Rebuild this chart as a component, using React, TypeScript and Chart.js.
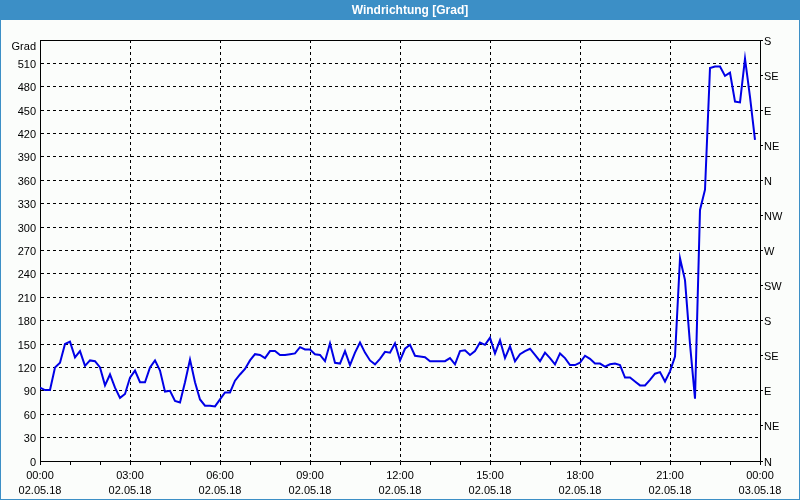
import React, { useEffect, useRef } from "react";
import { Chart, registerables } from "chart.js";

Chart.register(...registerables);

// ---- data ----
const SAMPLE_MINUTES = 10; // one reading every 10 minutes from 02.05.18 00:00
const windDirection = [
  94, 91, 91, 120, 126, 150, 153, 133, 141, 122, 129, 128, 120, 97, 111, 94, 81, 86, 107, 116, 101, 101, 120, 129, 116, 89, 90, 77, 75, 101, 130, 101, 79, 71, 71, 70,
  79, 88, 88, 103, 111, 118, 129, 137, 136, 132, 141, 141, 136, 136, 137, 138, 146, 143, 143, 137, 136, 128, 151, 126, 125, 141, 123, 139, 152, 139, 129, 124, 131, 140, 139, 151, 129, 144,
  149, 135, 134, 133, 128, 128, 128, 128, 132, 124, 141, 142, 136, 141, 152, 149, 158, 138, 155, 132, 147, 128, 137, 141, 144, 136, 128, 139, 132, 124, 138, 132, 123, 123, 126, 135, 131, 125,
  125, 121, 124, 125, 123, 107, 107, 102, 97, 97, 104, 112, 114, 102, 115, 134, 260, 232, 150, 80, 322, 348, 504, 506, 506, 494, 498, 461, 460, 516, 467, 412,
];
const compassLabels = ["N", "NE", "E", "SE", "S", "SW", "W", "NW", "N", "NE", "E", "SE", "S"];
const dayLabels = ["02.05.18", "03.05.18"];
const chartTitle = "Windrichtung [Grad]";
const unitLabel = "Grad";

const Y_MAX = 540;
const Y_STEP = 30;
const COMPASS_STEP = 45;
const X_MAX = 1440;
const LABEL_EVERY = 180;

const FONT = "'Liberation Sans', Arial, sans-serif";
const FRAME_BLUE = "#3c8fc6";
const LINE_BLUE = "#0000e6";

export default function App() {
  const ref = useRef<HTMLCanvasElement>(null);

  useEffect(() => {
    document.body.style.margin = "0";
    const canvas = ref.current;
    if (!canvas) return;

    const framePlugin = {
      id: "frame",
      beforeDraw(chart: any) {
        const { ctx, width, height } = chart;
        ctx.save();
        ctx.fillStyle = "#fbfdfb";
        ctx.fillRect(0, 0, width, height);
        ctx.fillStyle = FRAME_BLUE;
        ctx.fillRect(0, 0, width, 20);
        ctx.strokeStyle = FRAME_BLUE;
        ctx.lineWidth = 1;
        ctx.strokeRect(0.5, 0.5, width - 1, height - 1);
        ctx.fillStyle = "#ffffff";
        ctx.font = `bold 12px ${FONT}`;
        ctx.textAlign = "center";
        ctx.textBaseline = "middle";
        ctx.fillText(chartTitle, width / 2 + 10, 10.5);
        ctx.restore();
      },
      afterDraw(chart: any) {
        const { ctx, chartArea } = chart;
        ctx.save();
        ctx.strokeStyle = "#000";
        ctx.lineWidth = 1;
        ctx.beginPath();
        ctx.moveTo(chartArea.left, Math.round(chartArea.top) + 0.5);
        ctx.lineTo(chartArea.right, Math.round(chartArea.top) + 0.5);
        ctx.stroke();
        ctx.fillStyle = "#000";
        ctx.font = `11px ${FONT}`;
        ctx.textAlign = "right";
        ctx.textBaseline = "middle";
        ctx.fillText(unitLabel, chartArea.left - 4, chartArea.top + 7);
        ctx.restore();
      },
    };

    const tickFont = { family: FONT, size: 11 };

    const chart = new Chart(canvas, {
      type: "line",
      data: {
        datasets: [
          {
            data: windDirection.map((v, i) => ({ x: i * SAMPLE_MINUTES, y: v })),
            borderColor: LINE_BLUE,
            borderWidth: 2,
            pointRadius: 0,
            tension: 0,
            fill: false,
            xAxisID: "x",
            yAxisID: "y",
          },
        ],
      },
      options: {
        responsive: false,
        animation: false,
        devicePixelRatio: 1,
        layout: { padding: { top: 40, left: 0, right: 0, bottom: 0 } },
        plugins: { legend: { display: false }, tooltip: { enabled: false }, title: { display: false } },
        scales: {
          x: {
            type: "linear",
            min: 0,
            max: X_MAX,
            afterFit: (s: any) => {
              s.height = 39;
            },
            ticks: {
              stepSize: 60,
              autoSkip: false,
              maxRotation: 0,
              minRotation: 0,
              padding: 3,
              color: "#000",
              font: { ...tickFont, lineHeight: 1.4 },
              callback: (value: any) => {
                const v = Number(value);
                if (v % LABEL_EVERY !== 0) return "";
                const h = Math.floor(v / 60) % 24;
                const day = dayLabels[Math.floor(v / X_MAX)];
                return [`${String(h).padStart(2, "0")}:00`, day];
              },
            },
            grid: {
              color: (ctx: any) => {
                const v = ctx.tick ? ctx.tick.value : -1;
                return v % LABEL_EVERY === 0 && v !== 0 && v !== X_MAX ? "#000" : "rgba(0,0,0,0)";
              },
              tickColor: "#000",
              tickLength: 4,
              tickBorderDash: [],
              lineWidth: 1,
            },
            border: { color: "#000", dash: [3, 3] },
          },
          y: {
            position: "left",
            min: 0,
            max: Y_MAX,
            afterFit: (s: any) => {
              s.width = 40;
            },
            ticks: {
              stepSize: Y_STEP,
              padding: 4,
              labelOffset: 1.5,
              color: "#000",
              font: tickFont,
              callback: (value: any) => (Number(value) === Y_MAX ? "" : String(value)),
            },
            grid: {
              drawTicks: false,
              color: (ctx: any) => {
                const v = ctx.tick ? ctx.tick.value : -1;
                return v === 0 || v === Y_MAX ? "rgba(0,0,0,0)" : "#000";
              },
              lineWidth: 1,
            },
            border: { color: "#000", dash: [3, 3] },
          },
          y2: {
            position: "right",
            min: 0,
            max: Y_MAX,
            afterFit: (s: any) => {
              s.width = 40;
            },
            ticks: {
              stepSize: COMPASS_STEP,
              padding: 1,
              labelOffset: 1.5,
              color: "#000",
              font: tickFont,
              callback: (value: any) => compassLabels[Math.round(Number(value) / COMPASS_STEP)] ?? "",
            },
            grid: {
              drawOnChartArea: false,
              tickLength: 3,
              color: "#000",
              tickColor: "#000",
            },
            border: { color: "#000" },
          },
        },
      } as any,
      plugins: [framePlugin],
    });

    return () => chart.destroy();
  }, []);

  return (
    <div style={{ width: 800, height: 500 }}>
      <canvas ref={ref} width={800} height={500} style={{ display: "block" }} />
    </div>
  );
}
